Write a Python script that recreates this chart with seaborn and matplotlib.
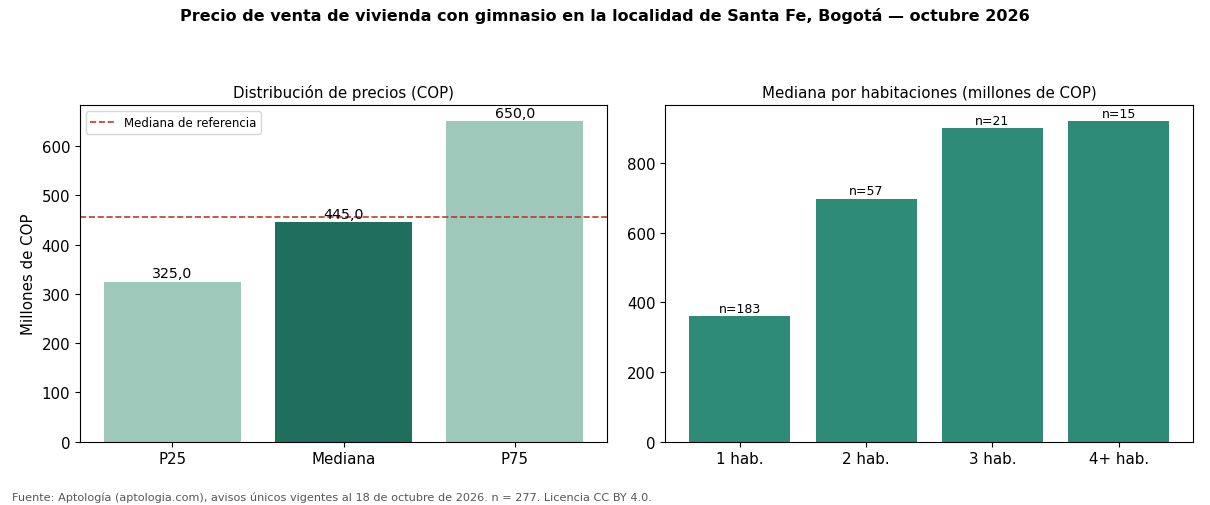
import matplotlib
matplotlib.use("Agg")
import matplotlib.pyplot as plt
import seaborn as sns
import pandas as pd

plt.rcParams["font.family"] = "DejaVu Sans"

# Data
dist_labels = ["P25", "Mediana", "P75"]
dist_values = [325.0, 445.0, 650.0]
ref_median = 455.0

rooms_labels = ["1 hab.", "2 hab.", "3 hab.", "4+ hab."]
rooms_values = [360, 698, 900, 920]
rooms_n = [183, 57, 21, 15]

light = "#9dc8ba"
dark = "#206e5c"
mid = "#2e8b77"

fig, axes = plt.subplots(1, 2, figsize=(12.1, 5.06), dpi=100)

# Left panel: price distribution
ax = axes[0]
df1 = pd.DataFrame({"stat": dist_labels, "value": dist_values})
sns.barplot(data=df1, x="stat", y="value", hue="stat",
            palette=[light, dark, light], legend=False, width=0.8,
            saturation=1, ax=ax)
for c in ax.containers:
    ax.bar_label(c, labels=[f"{v:.1f}".replace(".", ",") for v in c.datavalues],
                 fontsize=10.2, padding=1)
ax.axhline(ref_median, color="#c0392b", linestyle="--", linewidth=1.2,
           label="Mediana de referencia")
ax.legend(loc="upper left", fontsize=8.5)
ax.set_xlim(-0.54, len(dist_labels) - 0.46)
ax.set_title("Distribución de precios (COP)", fontsize=10.8)
ax.set_ylabel("Millones de COP", fontsize=10.8)
ax.set_xlabel("")
ax.tick_params(labelsize=10.8)

# Right panel: median by rooms
ax = axes[1]
df2 = pd.DataFrame({"rooms": rooms_labels, "value": rooms_values})
sns.barplot(data=df2, x="rooms", y="value", color=mid, saturation=1,
            width=0.8, ax=ax)
ax.bar_label(ax.containers[0], labels=[f"n={n}" for n in rooms_n],
             fontsize=9, padding=1)
ax.set_xlim(-0.59, len(rooms_labels) - 0.41)
ax.set_title("Mediana por habitaciones (millones de COP)", fontsize=10.8)
ax.set_xlabel("")
ax.set_ylabel("")
ax.tick_params(labelsize=10.8)

fig.suptitle("Precio de venta de vivienda con gimnasio en la localidad de Santa Fe, Bogotá — octubre 2026",
             fontsize=11.5, fontweight="bold", y=0.985)
fig.text(0.01, 0.01, "Fuente: Aptología (aptologia.com), avisos únicos vigentes al 18 de octubre de 2026. n = 277. Licencia CC BY 4.0.",
         fontsize=8.15, color="#555555")

fig.subplots_adjust(left=0.066, right=0.986, top=0.79, bottom=0.125, wspace=0.11)
fig.savefig("out.png", dpi=100)
